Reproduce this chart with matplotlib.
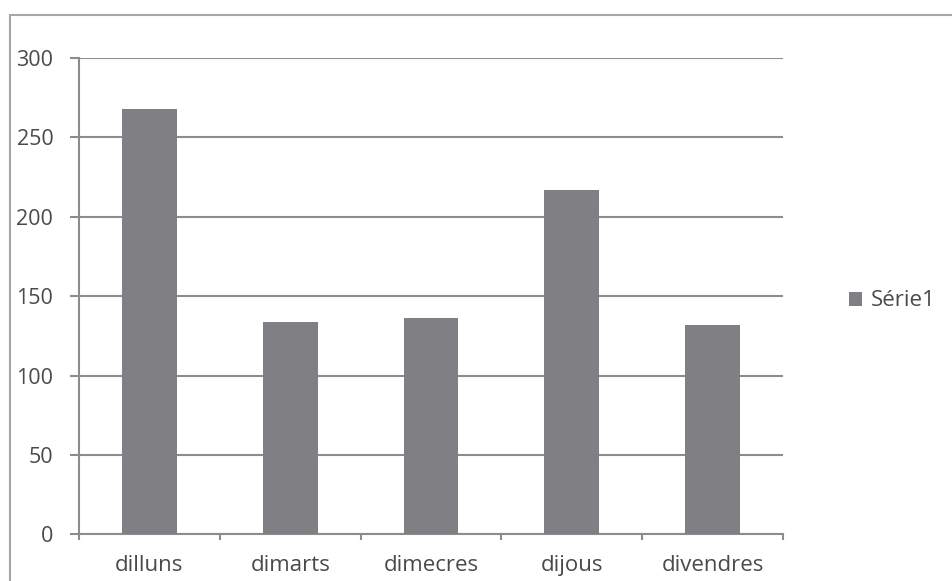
import matplotlib
matplotlib.use("Agg")
import matplotlib.pyplot as plt
from matplotlib.patches import Rectangle
import numpy as np

categories = ["dilluns", "dimarts", "dimecres", "dijous", "divendres"]
values = [268, 134, 136, 217, 132]
series_name = "Série1"
yticks = [0, 50, 100, 150, 200, 250, 300]

plt.rcParams['font.family'] = ['Open Sans', 'DejaVu Sans']

W, H = 952, 581
fig = plt.figure(figsize=(W / 100, H / 100), dpi=100)
fig.patch.set_facecolor("white")

# outer chart border (cropped at right and bottom)
fig.add_artist(Rectangle((10 / W, -0.05), 1.2, (H - 15) / H + 0.05,
                         transform=fig.transFigure, fill=False,
                         edgecolor="#a6a6a6", linewidth=1.5))

ax = fig.add_axes([79 / W, (H - 534.3) / H, (783 - 79) / W, (534.3 - 58) / H])
x = np.arange(len(categories))
bars = ax.bar(x, values, width=0.39, color="#7f7f84", label=series_name, zorder=3)

ax.set_xlim(-0.5, len(categories) - 0.5)
ax.set_ylim(0, 300)
ax.set_yticks(yticks)
ax.set_yticklabels([str(v) for v in yticks])
ax.set_xticks(x)
ax.set_xticklabels(categories)
ax.set_xticks(np.arange(-0.5, len(categories)), minor=True)

for s in ["top", "right"]:
    ax.spines[s].set_visible(False)
for s in ["left", "bottom"]:
    ax.spines[s].set_color("#8c8c8c")
    ax.spines[s].set_linewidth(1.5)

ax.grid(axis="y", color="#8c8c8c", linewidth=1.5, zorder=0)
ax.set_axisbelow(True)

ax.tick_params(axis="y", length=6.5, width=1.5, color="#8c8c8c", pad=12,
               labelsize=15.5, labelcolor="#4a4a4a")
ax.tick_params(axis="x", which="major", length=0, pad=15,
               labelsize=16, labelcolor="#4a4a4a")
ax.tick_params(axis="x", which="minor", length=4.5, width=1.5, color="#8c8c8c")

leg = fig.legend(handles=[bars], labels=[series_name], loc="center left",
                 bbox_to_anchor=(849 / W, (H - 301) / H), frameon=False,
                 borderaxespad=0, borderpad=0,
                 handlelength=0.6, handleheight=0.6, handletextpad=0.4,
                 fontsize=16, labelcolor="#4a4a4a")

fig.savefig("out.png", dpi=100, facecolor="white")
